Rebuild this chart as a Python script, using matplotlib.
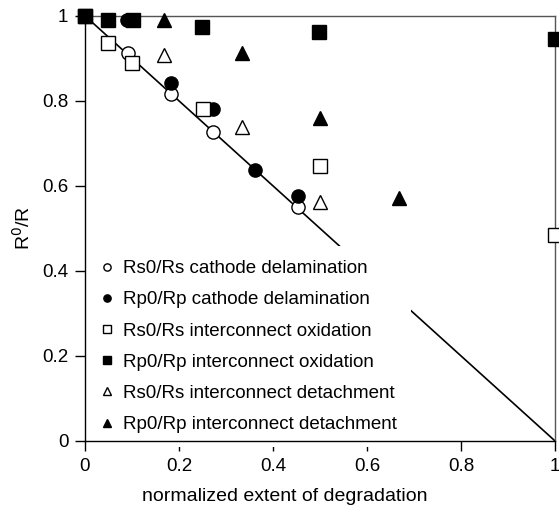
import matplotlib
matplotlib.use('Agg')
import matplotlib.pyplot as plt

plt.rcParams['font.family'] = ['Liberation Sans', 'DejaVu Sans']

# Rs0/Rs cathode delamination (open circles)
x_rs_cath = [0.092, 0.183, 0.272, 0.454]
y_rs_cath = [0.912, 0.817, 0.726, 0.550]
# Rp0/Rp cathode delamination (filled circles)
x_rp_cath = [0.089, 0.183, 0.273, 0.362, 0.453]
y_rp_cath = [0.990, 0.842, 0.780, 0.638, 0.576]
# Rs0/Rs interconnect oxidation (open squares)
x_rs_oxi = [0.0, 0.05, 0.099, 0.252, 0.499, 1.0]
y_rs_oxi = [1.0, 0.936, 0.889, 0.780, 0.647, 0.485]
# Rp0/Rp interconnect oxidation (filled squares)
x_rp_oxi = [0.0, 0.05, 0.102, 0.25, 0.498, 1.0]
y_rp_oxi = [1.0, 0.990, 0.990, 0.974, 0.963, 0.946]
# Rs0/Rs interconnect detachment (open triangles)
x_rs_det = [0.169, 0.333, 0.5]
y_rs_det = [0.908, 0.739, 0.563]
# Rp0/Rp interconnect detachment (filled triangles)
x_rp_det = [0.169, 0.333, 0.5, 0.667]
y_rp_det = [0.991, 0.912, 0.759, 0.571]

# ideal line
x_line = [0, 1]
y_line = [1, 0]

fig = plt.figure(figsize=(5.59, 5.11), dpi=100)
ax = fig.add_axes([0.152, 0.137, 0.841, 0.832])

ax.plot(x_line, y_line, color='black', lw=1.2, zorder=1)

ms = 9.5
ax.plot(x_rs_cath, y_rs_cath, 'o', mfc='white', mec='black', mew=1.0, ms=ms,
        label='Rs0/Rs cathode delamination', clip_on=False, zorder=3)
ax.plot(x_rp_cath, y_rp_cath, 'o', mfc='black', mec='black', ms=ms,
        label='Rp0/Rp cathode delamination', clip_on=False, zorder=3)
ax.plot(x_rs_oxi, y_rs_oxi, 's', mfc='white', mec='black', mew=1.0, ms=ms,
        label='Rs0/Rs interconnect oxidation', clip_on=False, zorder=3)
ax.plot(x_rp_oxi, y_rp_oxi, 's', mfc='black', mec='black', ms=ms,
        label='Rp0/Rp interconnect oxidation', clip_on=False, zorder=3)
ax.plot(x_rs_det, y_rs_det, '^', mfc='white', mec='black', mew=1.0, ms=ms + 1,
        label='Rs0/Rs interconnect detachment', clip_on=False, zorder=3)
ax.plot(x_rp_det, y_rp_det, '^', mfc='black', mec='black', ms=ms + 1,
        label='Rp0/Rp interconnect detachment', clip_on=False, zorder=3)

ax.set_xlim(0, 1)
ax.set_ylim(0, 1)
ax.set_xticks([0, 0.2, 0.4, 0.6, 0.8, 1])
ax.set_xticklabels(['0', '0.2', '0.4', '0.6', '0.8', '1'])
ax.set_yticks([0, 0.2, 0.4, 0.6, 0.8, 1])
ax.set_yticklabels(['0', '0.2', '0.4', '0.6', '0.8', '1'])
ax.tick_params(direction='out', length=7, width=1, labelsize=13.5, pad=5)
for s in ['top', 'right']:
    ax.spines[s].set_color('#555555')
    ax.spines[s].set_linewidth(1.0)
for s in ['left', 'bottom']:
    ax.spines[s].set_linewidth(1.0)

ax.set_xlabel('normalized extent of degradation', fontsize=14)
ax.xaxis.set_label_coords(0.426, -0.11)
ax.set_ylabel('R$^0$/R', fontsize=14, labelpad=6)

leg = ax.legend(loc='lower left', bbox_to_anchor=(0.0, -0.019), fontsize=13.5,
                markerscale=0.55, handlelength=0.6, handletextpad=0.6,
                labelspacing=0.75, frameon=True, framealpha=1,
                facecolor='white', edgecolor='none', borderpad=0.75,
                borderaxespad=0.1)
leg.set_zorder(2)

fig.savefig('out.png', dpi=100)
